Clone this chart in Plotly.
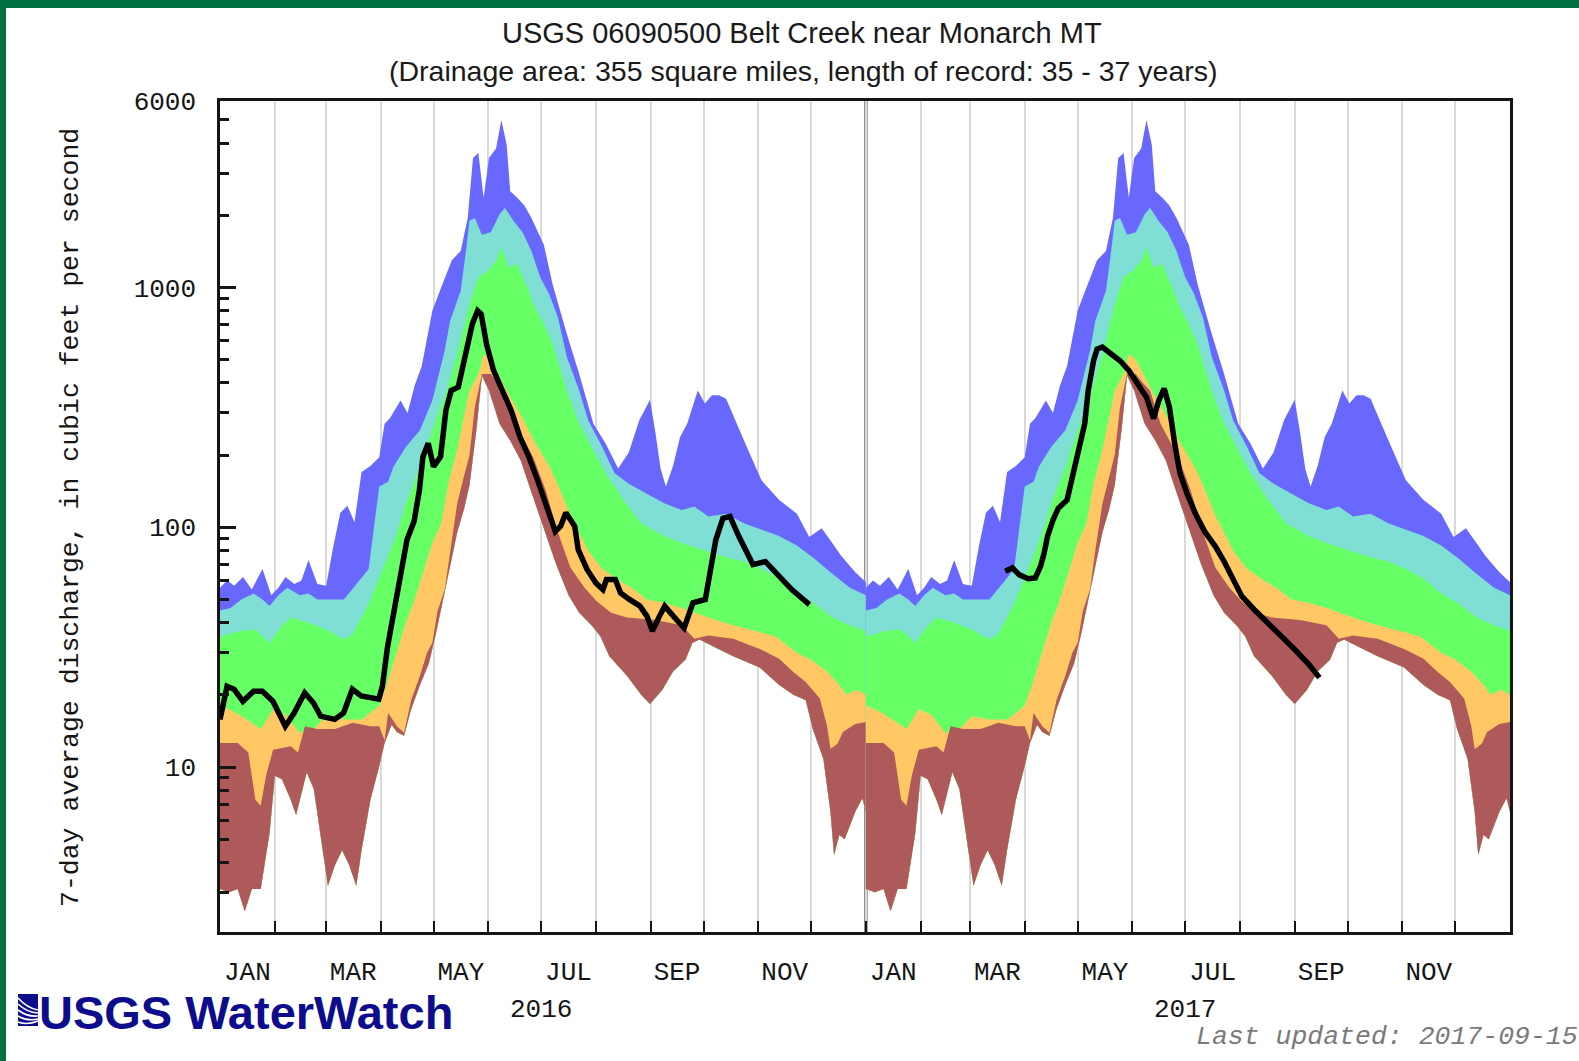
import math
import pandas as pd
import plotly.graph_objects as go

# ---------------- data ----------------
# Daily flow statistics by day of year (0 = Jan 1), cubic feet per second
MAX_DAYS = [0,4,8,13,18,24,29,33,37,42,46,50,55,60,64,68,72,76,80,85,90,93,96,102,106,110,114,120,125,131,
            136,140,143,146,149,152,156,159,162,164,168,172,176,183,188,196,203,211,218,225,231,237,243,246,249,252,
            256,260,264,270,274,278,282,286,296,306,316,326,333,340,346,351,359,365]
MAX_Q = [56,60,57,62,55,67,52,56,62,58,60,73,58,57,83,115,123,105,170,180,196,270,285,338,300,390,470,800,1000,1300,
         1420,1950,3470,3640,2370,3470,3800,5000,3940,2520,2370,2200,1950,1510,1030,640,436,270,223,176,205,280,340,250,175,148,
         180,238,270,372,328,355,355,344,231,157,130,114,91,99,86,76,65,59]

P90_DAYS = [0,6,12,19,24,28,33,38,45,50,55,63,70,78,84,87,90,95,98,105,113,120,127,130,136,139,141,144,148,153,
            158,161,166,171,176,181,186,191,196,203,208,216,223,231,241,251,261,268,276,286,296,306,316,326,336,346,356,365]
P90_Q = [45,46,50,53,50,47,52,56,52,53,50,50,50,59,67,100,148,155,179,216,254,338,546,725,968,1420,1900,1950,1660,1700,
         2020,2150,1890,1700,1420,1100,940,750,513,372,280,216,168,152,138,126,118,122,111,114,104,98,92,84,74,64,56,52]

P75_DAYS = [0,6,12,20,28,34,40,50,60,70,75,84,89,95,100,105,113,120,128,133,141,146,151,156,159,163,168,173,178,183,
            188,196,203,211,218,228,238,251,261,274,286,296,306,316,326,336,346,356,365]
P75_Q = [35,36,37,37.5,33,38,42,40,37.5,34,36,48,59,76,95,126,178,254,372,495,850,1100,1170,1290,1470,1210,1250,1030,826,705,
         580,372,270,210,168,130,104,92,86,80,75,72,67,61,53,48,42,39,37]

P25_DAYS = [0,8,15,23,30,37,45,53,60,70,80,90,95,100,105,110,115,120,125,129,134,141,146,149,153,157,163,171,178,186,
            191,198,203,208,216,224,234,241,250,261,278,290,302,314,326,334,343,350,354,360,365]
P25_Q = [18,17,15.8,14.4,17.4,16.5,13.9,14.4,16.3,15.8,15.8,18,23,30,40,50,65,86,104,152,210,372,436,528,500,436,360,285,225,180,
         150,112,95,80,67,61,55,50,48.5,46,41.5,39,37,35,30,28,25,22,20,21,20]

P10_DAYS = [0,10,16,20,23,26,30,40,44,48,55,65,75,85,90,93,95,100,104,108,113,117,120,123,127,130,134,138,141,144,
            148,153,157,161,167,172,177,184,191,198,206,213,221,230,246,261,268,276,290,305,316,324,331,339,343,345,349,352,359,365]
P10_Q = [12.6,12.6,11.5,7.3,6.9,9.2,11.8,12.2,11.5,14.8,14.4,14.4,15.3,14.8,14.8,12.9,16.8,14.8,13.9,19,24,30,33,45,55,80,125,165,200,317,
         436,436,400,372,270,230,196,143,95,68,56,49,44,42,41,39,34.3,35.4,34.3,31.1,28.3,24.9,22.6,19.3,14.9,11.9,12.5,14,15.1,15.4]

MIN_DAYS = [0,5,10,14,18,23,28,31,35,40,43,45,49,53,58,61,65,69,73,77,80,85,90,93,97,100,104,108,113,118,
            122,125,130,134,138,141,145,148,152,158,164,170,176,181,186,190,197,203,210,215,220,230,238,243,250,256,263,267,271,278,
            290,305,316,324,331,335,341,345,347,350,353,359,363,365]
MIN_Q = [3.1,3.0,3.1,2.5,3.1,3.1,5.3,9.2,8.9,7.3,6.3,7.3,9.5,8.1,4.5,3.2,3.9,4.5,3.9,3.2,4.5,7.3,10.1,12.6,15,14,13.5,17.4,22,27,
         36,46,68,95,120,150,260,430,372,270,230,190,140,110,85,70,52,44,39,35,29,24,20,18.3,21,25,28,33,34,32,
         29,26,22,20,19,14.4,10.8,6.5,4.3,5.2,5.0,6.5,7.4,6.5]

# Observed 7-day average discharge
OBS2016_DAYS = [0,4,8,13,19,24,30,33,37,42,48,53,57,65,70,75,80,90,92,95,99,103,106,110,113,115,118,121,125,128,
                131,135,139,143,146,148,151,155,160,165,170,175,180,185,190,193,196,201,203,208,213,217,219,224,227,232,238,242,245,249,
                252,257,263,268,275,277,281,285,289,294,299,302,309,316,324,334]
OBS2016_Q = [15.8,21.7,21.1,18.8,20.7,20.7,18.8,16.8,14.8,16.8,20.4,18.5,16.3,15.8,16.8,21.1,19.8,19.2,21.7,31.9,45.4,68.8,88.9,106,143,197,224,179,197,307,
             372,384,512,705,800,775,582,451,372,307,238,197,157,122,96,101,115,101,80.7,66.7,58.6,55,60.5,60.5,53.2,50,46.9,42.5,36.9,42.5,
             46.9,42.5,38,48.4,50,60.5,88.9,109,111,91.7,78.2,69.9,72,63.5,55,47.6]
OBS2017_DAYS = [79,83,87,92,96,99,101,103,106,109,114,117,121,124,126,129,131,134,139,144,
                149,154,159,163,166,169,172,175,178,182,187,192,198,203,208,213,220,228,236,243,251,257]
OBS2017_Q = [65.5,67.7,63.3,61,61.5,68.8,78,92,107,120,130,162,209,270,372,495,554,564,528,495,
             451,396,349,284,338,379,317,223,168,138,113,96,83.3,72,60.5,51.6,45.4,39.9,35.2,30.9,26.8,23.6]

YEARS = [2016, 2017]
MONTH_LABELS = ["JAN", "MAR", "MAY", "JUL", "SEP", "NOV"]
LABEL_MONTHS = [1, 3, 5, 7, 9, 11]
Y_TICKS = [10, 100, 1000, 6000]
Y_TICK_TEXT = ["10", "100", "1000", "6000"]
Y_RANGE = [2.05, 6000]

TITLE = "USGS 06090500 Belt Creek near Monarch MT"
SUBTITLE = "(Drainage area: 355 square miles, length of record: 35 - 37 years)"
Y_TITLE = "7-day average discharge, in cubic feet per second"
UPDATED = "Last updated: 2017-09-15"

# ---------------- styles ----------------
BAND_COLORS = ["#6868FF", "#7FDFD4", "#66FF66", "#FFC864", "#AE5A5A"]
GREEN_FRAME = "#006F41"
NAVY = "#0C0C8C"
MONO = "Liberation Mono, DejaVu Sans Mono, monospace"
SANS = "Liberation Sans, Arial, sans-serif"

WIDTH, HEIGHT = 1579, 1061
L, R, T, B = 220, 69, 101, 129
PW = WIDTH - L - R
PH = HEIGHT - T - B


def px(x):
    return (x - L) / PW


def py(y):
    return (T + PH - y) / PH


def doy_dates(year, days, stretch=True):
    start = pd.Timestamp(year=year, month=1, day=1)
    ylen = (pd.Timestamp(year=year + 1, month=1, day=1) - start).days
    f = ylen / 365.0 if stretch else 1.0
    return [start + pd.Timedelta(days=d * f) for d in days]


fig = go.Figure()

curves = [(MAX_DAYS, MAX_Q), (P90_DAYS, P90_Q), (P75_DAYS, P75_Q), (P25_DAYS, P25_Q), (P10_DAYS, P10_Q)]
for year in YEARS:
    low_x = doy_dates(year, MIN_DAYS)[::-1]
    low_y = MIN_Q[::-1]
    for (days, q), col in zip(curves, BAND_COLORS):
        fig.add_trace(go.Scatter(
            x=doy_dates(year, days) + low_x,
            y=list(q) + list(low_y),
            fill="toself", fillcolor=col, mode="lines",
            line=dict(width=0, color=col), hoverinfo="skip", showlegend=False))

for year, days, q in [(2016, OBS2016_DAYS, OBS2016_Q), (2017, OBS2017_DAYS, OBS2017_Q)]:
    fig.add_trace(go.Scatter(x=doy_dates(year, days, stretch=False), y=q, mode="lines",
                             line=dict(color="black", width=5.5), hoverinfo="skip", showlegend=False))

# axis ticks
month_starts = []
label_vals = []
label_text = []
for year in YEARS:
    for m in range(1, 13):
        s = pd.Timestamp(year=year, month=m, day=1)
        e = pd.Timestamp(year=year + (m == 12), month=(m % 12) + 1, day=1)
        if not (year == YEARS[0] and m == 1):
            month_starts.append(s)
        if m in LABEL_MONTHS:
            label_vals.append(s + (e - s) / 2)
            label_text.append(MONTH_LABELS[LABEL_MONTHS.index(m)])

minor_y = [v * 10 ** k for k in range(0, 4) for v in range(2, 10) if Y_RANGE[0] <= v * 10 ** k <= Y_RANGE[1]
           and v * 10 ** k not in Y_TICKS]

fig.update_xaxes(
    type="date", range=["2016-01-01", "2018-01-01"],
    tickmode="array", tickvals=label_vals, ticktext=label_text, ticks="",
    showgrid=False, zeroline=False, showline=True, mirror=True, linecolor="#151515", linewidth=2.5,
    tickfont=dict(family=MONO, size=26, color="#151515"), ticklabelstandoff=14,
    minor=dict(tickmode="array", tickvals=month_starts, ticks="inside", ticklen=11, tickwidth=2,
               tickcolor="#151515", showgrid=True, gridcolor="#D9D9D9", gridwidth=2),
)
fig.update_yaxes(
    type="log", range=[math.log10(Y_RANGE[0]), math.log10(Y_RANGE[1])],
    tickmode="array", tickvals=Y_TICKS, ticktext=Y_TICK_TEXT, ticks="inside", ticklen=16, tickwidth=2.5,
    tickcolor="#151515", showgrid=False, zeroline=False, showline=True, mirror=True,
    linecolor="#151515", linewidth=2.5, tickfont=dict(family=MONO, size=26, color="#151515"),
    ticklabelstandoff=16,
    minor=dict(tickmode="array", tickvals=minor_y, ticks="inside", ticklen=9, tickwidth=2.5,
               tickcolor="#151515", showgrid=False),
)

shapes = [
    # year separator
    dict(type="line", xref="x", yref="paper", x0="2017-01-01", x1="2017-01-01", y0=0, y1=1,
         line=dict(color="#7C7C7C", width=3.5), layer="between"),
    # green frame
    dict(type="rect", xref="paper", yref="paper", x0=px(0), x1=px(WIDTH), y0=py(8), y1=py(0),
         fillcolor=GREEN_FRAME, line=dict(width=0), layer="above"),
    dict(type="rect", xref="paper", yref="paper", x0=px(0), x1=px(6), y0=py(HEIGHT), y1=py(0),
         fillcolor=GREEN_FRAME, line=dict(width=0), layer="above"),
    # logo icon
    dict(type="rect", xref="paper", yref="paper", x0=px(18), x1=px(38), y0=py(1026), y1=py(994),
         fillcolor=NAVY, line=dict(width=0), layer="above"),
]
for ya, yb in [(998, 1010), (1004, 1013), (1010, 1016), (1016, 1019), (1022, 1021)]:
    shapes.append(dict(type="path", xref="paper", yref="paper",
                       path=f"M {px(18)},{py(ya)} Q {px(27)},{py((ya + yb) / 2 + 4)} {px(38)},{py(yb)}",
                       line=dict(color="white", width=1.6), layer="above"))

annotations = [
    dict(text=TITLE, xref="paper", yref="paper", x=px(802), y=py(33), showarrow=False,
         font=dict(family=SANS, size=29, color="#1a1a1a"), xanchor="center", yanchor="middle"),
    dict(text=SUBTITLE, xref="paper", yref="paper", x=px(803), y=py(70.5), showarrow=False,
         font=dict(family=SANS, size=28.5, color="#1a1a1a"), xanchor="center", yanchor="middle"),
    dict(text=Y_TITLE, xref="paper", yref="paper", x=px(71), y=py(518), showarrow=False, textangle=-90,
         font=dict(family=MONO, size=26.5, color="#151515"), xanchor="center", yanchor="middle"),
    dict(text="<b>USGS WaterWatch</b>", xref="paper", yref="paper", x=px(37), y=py(1012), showarrow=False,
         font=dict(family=SANS, size=47, color=NAVY), xanchor="left", yanchor="middle"),
    dict(text=UPDATED, xref="paper", yref="paper", x=px(WIDTH + 1), y=py(1037), showarrow=False,
         font=dict(family=MONO, size=26.5, color="#7a7a7a", style="italic"), xanchor="right", yanchor="middle"),
]
for year in YEARS:
    annotations.append(dict(text=str(year), xref="x", yref="paper", x=pd.Timestamp(year=year, month=7, day=1),
                            y=py(1010), showarrow=False, font=dict(family=MONO, size=26, color="#151515"),
                            xanchor="center", yanchor="middle"))

fig.update_layout(
    width=WIDTH, height=HEIGHT, margin=dict(l=L, r=R, t=T, b=B, pad=0),
    paper_bgcolor="white", plot_bgcolor="white", showlegend=False,
    shapes=shapes, annotations=annotations,
)

fig.write_html(
    "out.html",
    config={"displayModeBar": False},
    post_script="document.body.style.margin='0px';document.body.style.padding='0px';"
                "document.body.style.overflow='hidden';",
)
